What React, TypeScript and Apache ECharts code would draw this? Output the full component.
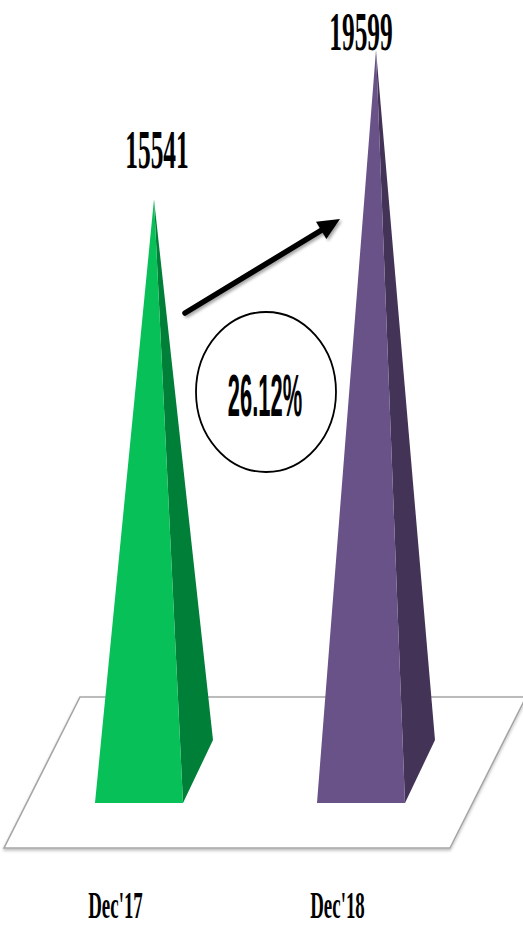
import React, { useEffect, useRef } from 'react';
import * as echarts from 'echarts';

// Year-end totals shown as 3D pyramids standing on a floor plane
const categories = ["Dec'17", "Dec'18"];
const values = [15541, 19599];
const growthLabel = '26.12%';

const faceColors = ['#07C058', '#695287'];
const sideColors = ['#007F38', '#433457'];

// value-label offset from each pyramid tip (px)
const labelShift = [
  [3, -50],
  [-15, -19],
];

// pyramid base footprint in screen space (oblique projection)
const HALF_W = 44;
const DEPTH_X = 15;
const DEPTH_Y = 31.5;

export default function App() {
  const ref = useRef<HTMLDivElement>(null);

  useEffect(() => {
    if (!ref.current) return;
    const chart = echarts.init(ref.current, undefined, { renderer: 'svg' });

    const pyramidItem = (params: any, api: any) => {
      const i = api.value(0);
      const v = api.value(1);
      const [ax, ay] = api.coord([i, v]);
      const [bx, by] = api.coord([i, 0]);
      const fl = [bx - HALF_W - DEPTH_X, by + DEPTH_Y];
      const fr = [bx + HALF_W - DEPTH_X, by + DEPTH_Y];
      const br = [bx + HALF_W + DEPTH_X, by - DEPTH_Y];
      const sh = labelShift[params.dataIndex];
      return {
        type: 'group',
        children: [
          {
            type: 'polygon',
            shape: { points: [[ax, ay], fr, br] },
            style: { fill: sideColors[params.dataIndex] },
          },
          {
            type: 'polygon',
            shape: { points: [[ax, ay], fl, fr] },
            style: { fill: faceColors[params.dataIndex] },
          },
          {
            // tall, narrow value label
            type: 'text',
            x: ax + sh[0],
            y: ay + sh[1],
            scaleY: 2.15,
            style: {
              text: String(v),
              x: 0,
              y: 0,
              align: 'center',
              verticalAlign: 'middle',
              fontFamily: '"Liberation Serif", serif',
              fontWeight: 'bold',
              fontSize: 25.4,
              fill: '#000',
            },
          },
          {
            type: 'text',
            x: bx - 38.5,
            y: by + 134,
            scaleY: 2.05,
            style: {
              text: categories[params.dataIndex],
              x: 0,
              y: 0,
              align: 'center',
              verticalAlign: 'middle',
              fontFamily: '"Liberation Serif", serif',
              fontWeight: 'bold',
              fontSize: 18.9,
              fill: '#000',
            },
          },
        ],
      };
    };

    const floorItem = (params: any, api: any) => {
      const cs = params.coordSys;
      const y0 = api.coord([0, 0])[1];
      return {
        type: 'polygon',
        shape: {
          points: [
            [cs.x - 39, y0 + 76.5],
            [cs.x + cs.width - 37, y0 + 76.5],
            [cs.x + cs.width + 39, y0 - 74.5],
            [cs.x + 37, y0 - 74.5],
          ],
        },
        style: {
          fill: '#fff',
          stroke: '#a6a6a6',
          lineWidth: 1.6,
          shadowColor: 'rgba(0,0,0,0.25)',
          shadowBlur: 3,
          shadowOffsetX: 0,
          shadowOffsetY: 2,
        },
      };
    };

    // arrow pointing from the first pyramid to the second
    const tail = [185, 313];
    const tip = [340, 219];
    const dx = tip[0] - tail[0];
    const dy = tip[1] - tail[1];
    const len = Math.hypot(dx, dy);
    const ux = dx / len;
    const uy = dy / len;
    const headLen = 22;
    const headHalf = 10;
    const hb = [tip[0] - headLen * ux, tip[1] - headLen * uy];
    const nx = -uy;
    const ny = ux;
    const arrowShadow = {
      shadowColor: 'rgba(0,0,0,0.35)',
      shadowBlur: 3,
      shadowOffsetX: 2,
      shadowOffsetY: 2,
    };

    chart.setOption({
      animation: false,
      backgroundColor: '#fff',
      grid: { left: 43, right: 36, top: 35.2, bottom: 155.5 },
      xAxis: { type: 'category', data: categories, show: false },
      yAxis: { type: 'value', min: 0, max: 20000, show: false },
      series: [
        {
          type: 'custom',
          name: 'floor',
          renderItem: floorItem,
          data: [[0, 0]],
          z: 1,
          silent: true,
        },
        {
          type: 'custom',
          name: 'total',
          renderItem: pyramidItem,
          data: values.map((v, i) => [i, v]),
          z: 2,
        },
      ],
      graphic: [
        {
          type: 'line',
          shape: { x1: tail[0], y1: tail[1], x2: hb[0], y2: hb[1] },
          style: { stroke: '#000', lineWidth: 5.5, lineCap: 'round', ...arrowShadow },
          z: 10,
        },
        {
          type: 'polygon',
          shape: {
            points: [
              [tip[0], tip[1]],
              [hb[0] + headHalf * nx, hb[1] + headHalf * ny],
              [hb[0] - headHalf * nx, hb[1] - headHalf * ny],
            ],
          },
          style: { fill: '#000', ...arrowShadow },
          z: 10,
        },
        {
          type: 'ellipse',
          shape: { cx: 266, cy: 392, rx: 70, ry: 80 },
          style: { fill: '#fff', stroke: '#000', lineWidth: 1.8 },
          z: 10,
        },
        {
          type: 'text',
          x: 265,
          y: 395,
          scaleY: 2.74,
          style: {
            text: growthLabel,
            x: 0,
            y: 0,
            align: 'center',
            verticalAlign: 'middle',
            fontFamily: '"Liberation Sans", Arial, sans-serif',
            fontWeight: 'bold',
            fontSize: 21.9,
            fill: '#000',
          },
          z: 11,
        },
      ],
    });

    return () => chart.dispose();
  }, []);

  return (
    <div
      ref={ref}
      style={{ position: 'absolute', left: 0, top: 0, width: 523, height: 927 }}
    />
  );
}
